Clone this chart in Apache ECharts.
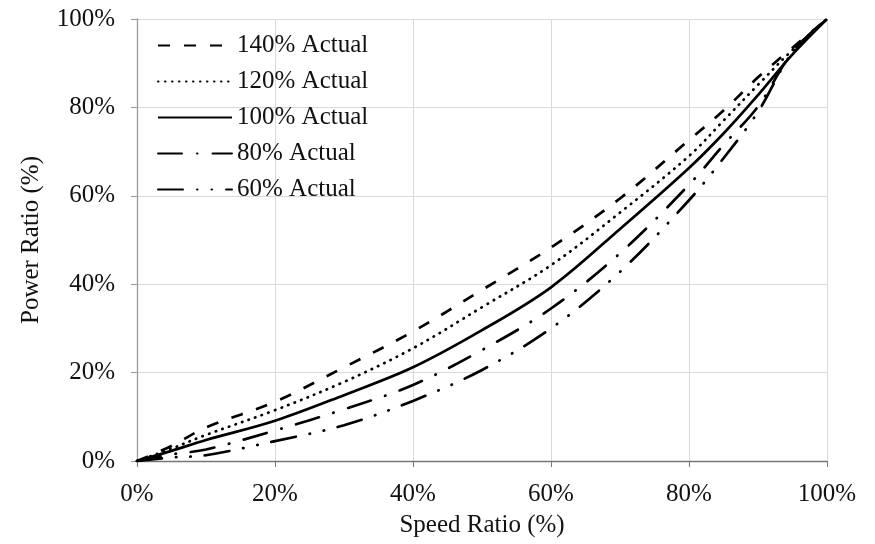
<!DOCTYPE html>
<html>
<head>
<meta charset="utf-8">
<script src="https://cdn.jsdelivr.net/npm/echarts@6/dist/echarts.min.js"></script>
<style>html,body{margin:0;padding:0;background:#fff;}#c{width:875px;height:544px;}</style>
</head>
<body>
<div id="c"></div>
<script>
// Speed ratio (%) sample points
const speed = [0, 5, 10, 20, 30, 40, 50, 60, 70, 80, 85, 90, 95, 100];
// Power ratio (%) per curve
const actual140 = [0, 3.4, 7.6, 13.4, 21.2, 29.3, 38.7, 48.3, 59.4, 72.6, 79.3, 86.8, 93.5, 100];
const actual120 = [0, 2.8, 5.9, 11.5, 17.9, 25.5, 34.8, 44.3, 56.2, 69.0, 77.0, 85.1, 93.0, 100];
const actual100 = [0, 2.3, 4.75, 9.1, 14.9, 21.2, 29.6, 39.3, 52.5, 66.3, 74.1, 82.8, 92.0, 100];
const actual80  = [0, 1.5, 2.6, 6.9, 11.7, 17.2, 25.1, 34.5, 47.0, 62.5, 71.5, 80.2, 92.5, 100];
const actual60  = [0, 0.8, 1.3, 4.5, 8.1, 13.6, 20.6, 30.0, 42.8, 59.0, 68.5, 79.0, 92.5, 100];
const seriesNames = ['140% Actual', '120% Actual', '100% Actual', '80% Actual', '60% Actual'];
const xTicks = [0, 20, 40, 60, 80, 100];

const font = 'Liberation Serif';
const pairs = arr => speed.map((s, i) => [s, arr[i]]);
const styles = [
  {type: [12, 14], cap: 'butt'},
  {type: [0.5, 6.5], cap: 'round'},
  {type: 'solid', cap: 'butt'},
  {type: [24, 15, 0.5, 15], cap: 'round'},
  {type: [25, 14, 0.5, 14, 0.5, 14], cap: 'round'}
];
const datas = [actual140, actual120, actual100, actual80, actual60];

const chart = echarts.init(document.getElementById('c'));
chart.setOption({
  backgroundColor: '#fff',
  animation: false,
  grid: {left: 137, right: 48, top: 19, bottom: 83},
  legend: {
    orient: 'vertical',
    left: 157,
    top: 33,
    padding: 0,
    itemWidth: 74,
    itemHeight: 14,
    itemGap: 11,
    itemStyle: {opacity: 0},
    textStyle: {fontFamily: font, fontSize: 25, color: '#111'},
    data: seriesNames
  },
  xAxis: {
    type: 'value', min: 0, max: 100, interval: 20,
    name: 'Speed Ratio (%)', nameLocation: 'middle', nameGap: 52,
    nameTextStyle: {fontFamily: font, fontSize: 25, color: '#111'},
    axisLine: {lineStyle: {color: '#777', width: 1.3}},
    axisTick: {show: true, length: 6, lineStyle: {color: '#777'}},
    axisLabel: {fontFamily: font, fontSize: 25, color: '#111', margin: 21,
      formatter: v => xTicks.indexOf(v) >= 0 ? v + '%' : ''},
    splitLine: {show: true, lineStyle: {color: '#d9d9d9', width: 1}}
  },
  yAxis: {
    type: 'value', min: 0, max: 100, interval: 20,
    name: 'Power Ratio (%)', nameLocation: 'middle', nameGap: 93, nameRotate: 90,
    nameTextStyle: {fontFamily: font, fontSize: 25, color: '#111'},
    axisLine: {show: true, lineStyle: {color: '#999', width: 1.3}},
    axisTick: {show: true, length: 6, lineStyle: {color: '#999'}},
    axisLabel: {fontFamily: font, fontSize: 25, color: '#111', margin: 22,
      formatter: v => v + '%'},
    splitLine: {show: true, lineStyle: {color: '#d9d9d9', width: 1}}
  },
  series: datas.map((d, i) => ({
    name: seriesNames[i],
    type: 'line',
    smooth: 0.35,
    symbol: 'none',
    data: pairs(d),
    lineStyle: {color: '#000', width: 2.7, type: styles[i].type, cap: styles[i].cap},
    itemStyle: {color: '#000'}
  }))
});
</script>
</body>
</html>
